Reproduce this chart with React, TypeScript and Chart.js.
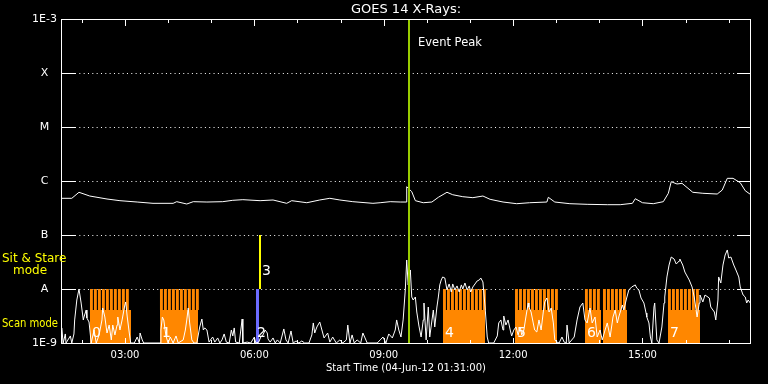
import { useEffect, useRef } from 'react';
import { Chart, registerables } from 'chart.js';

Chart.register(...registerables);

const FONT = "'DejaVu Sans', sans-serif";
const TITLE = 'GOES 14 X-Rays:';
const X_TITLE = 'Start Time (04-Jun-12 01:31:00)';

// x axis: minutes after 04-Jun-12 01:31:00
const X_MIN = 0;
const X_MAX = 960;
const hourTickMinutes = [29, 89, 149, 209, 269, 329, 389, 449, 509, 569, 629, 689, 749, 809, 869, 929];
const labeledTickMinutes = [89, 269, 449, 629, 809];
const labeledTickText = ['03:00', '06:00', '09:00', '12:00', '15:00'];

// y axis: flux W/m^2
const yTickValues = [1e-9, 1e-8, 1e-7, 1e-6, 1e-5, 1e-4, 1e-3];
const yTickLabels = ['1E-9', 'A', 'B', 'C', 'M', 'X', '1E-3'];

// long channel (1-8 A)
const longTime = [0, 15, 25, 40, 64, 82, 106, 128, 156, 161, 175, 184, 203, 225, 239, 253, 277, 295, 314, 321, 342, 360, 374, 388, 406, 434, 444, 458, 472, 480, 481, 488, 493, 504, 516, 525, 537, 545, 559, 573, 587, 597, 615, 634, 652, 676, 678, 687, 708, 732, 760, 778, 795, 799, 809, 824, 838, 845, 849, 857, 864, 879, 893, 913, 920, 927, 935, 945, 952, 959];
const longFlux = [4.78e-7, 4.78e-7, 6.18e-7, 5.27e-7, 4.64e-7, 4.32e-7, 4.08e-7, 3.86e-7, 3.86e-7, 4.14e-7, 3.75e-7, 4.14e-7, 4.08e-7, 4.14e-7, 4.39e-7, 4.51e-7, 4.32e-7, 4.45e-7, 3.86e-7, 4.32e-7, 3.96e-7, 4.45e-7, 4.78e-7, 4.45e-7, 4.14e-7, 3.86e-7, 3.96e-7, 4.14e-7, 4.08e-7, 4.08e-7, 7.84e-7, 6.34e-7, 4.32e-7, 3.96e-7, 4.08e-7, 4.99e-7, 6.18e-7, 5.57e-7, 5.12e-7, 4.91e-7, 5.27e-7, 4.58e-7, 4.08e-7, 3.8e-7, 3.96e-7, 4.08e-7, 4.99e-7, 4.08e-7, 3.8e-7, 3.7e-7, 3.64e-7, 3.64e-7, 3.86e-7, 4.7e-7, 3.96e-7, 3.8e-7, 4.14e-7, 5.92e-7, 9.7e-7, 8.8e-7, 9.06e-7, 6.18e-7, 5.92e-7, 5.74e-7, 6.8e-7, 1.12e-6, 1.12e-6, 9.3e-7, 6.6e-7, 5.67e-7];

// short channel (0.5-4 A)
const shortTime = [0, 1, 3, 6, 7, 13, 15, 18, 19, 22, 25, 28, 31, 32, 35, 36, 39, 42, 46, 49, 53, 57, 58, 61, 64, 67, 70, 72, 75, 78, 79, 82, 85, 88, 90, 92, 95, 97, 102, 106, 109, 110, 113, 115, 138, 139, 141, 143, 146, 149, 152, 156, 160, 163, 170, 173, 175, 177, 179, 182, 185, 189, 193, 196, 198, 200, 203, 206, 209, 211, 214, 218, 221, 224, 227, 230, 234, 237, 239, 241, 243, 248, 252, 253, 259, 264, 269, 271, 275, 278, 281, 284, 287, 288, 291, 295, 298, 301, 305, 310, 313, 316, 320, 323, 327, 331, 335, 339, 345, 349, 351, 353, 356, 360, 363, 366, 371, 374, 378, 383, 388, 392, 397, 399, 402, 405, 408, 412, 417, 420, 423, 426, 440, 444, 448, 452, 456, 461, 465, 467, 470, 473, 476, 479, 481, 483, 486, 488, 490, 493, 495, 498, 501, 504, 505, 508, 511, 513, 518, 520, 523, 525, 527, 529, 531, 534, 537, 540, 543, 545, 548, 551, 554, 557, 559, 562, 565, 568, 570, 573, 576, 579, 582, 584, 587, 590, 593, 595, 602, 607, 609, 612, 615, 616, 619, 622, 625, 627, 630, 633, 636, 639, 641, 644, 647, 650, 651, 654, 657, 659, 662, 665, 668, 671, 673, 676, 679, 682, 685, 687, 690, 693, 697, 700, 703, 704, 707, 714, 718, 722, 726, 729, 732, 736, 739, 743, 746, 750, 753, 757, 760, 764, 768, 771, 774, 776, 781, 783, 787, 790, 794, 799, 801, 804, 807, 811, 814, 815, 818, 820, 822, 825, 826, 829, 832, 836, 839, 840, 843, 846, 849, 853, 856, 860, 861, 865, 868, 874, 878, 881, 883, 885, 888, 889, 893, 896, 902, 904, 909, 911, 914, 915, 918, 921, 924, 927, 929, 932, 936, 939, 943, 945, 949, 952, 954, 956, 959];
const shortFlux = [1.0e-9, 1.9e-9, 1.0e-9, 1.47e-9, 1.0e-9, 1.35e-9, 1.0e-9, 1.47e-9, 2.67e-9, 6.26e-9, 1.0e-8, 5.5e-9, 2.67e-9, 3.03e-9, 4.08e-9, 2.9e-9, 2.45e-9, 1.0e-9, 1.74e-9, 1.0e-9, 1.41e-9, 2.67e-9, 4.45e-9, 3.03e-9, 1.53e-9, 2.15e-9, 1.14e-9, 2.15e-9, 1.41e-9, 2.15e-9, 3.03e-9, 1.74e-9, 2.67e-9, 4.45e-9, 5.75e-9, 3.16e-9, 1.53e-9, 1.0e-9, 1.0e-9, 1.29e-9, 1.0e-9, 1.53e-9, 1.14e-9, 1.0e-9, 1.0e-9, 1.74e-9, 3.03e-9, 2.67e-9, 1.35e-9, 1.0e-9, 1.29e-9, 1.0e-9, 1.35e-9, 1.0e-9, 1.14e-9, 1.74e-9, 2.67e-9, 4.45e-9, 2.35e-9, 1.14e-9, 1.0e-9, 1.0e-9, 1.98e-9, 2.78e-9, 1.74e-9, 1.9e-9, 1.74e-9, 1.04e-9, 1.19e-9, 1.29e-9, 1.04e-9, 1.24e-9, 1.0e-9, 1.14e-9, 1.47e-9, 1.04e-9, 1.0e-9, 1.74e-9, 1.35e-9, 1.9e-9, 1.04e-9, 1.0e-9, 2.78e-9, 1.0e-9, 1.04e-9, 1.0e-9, 1.29e-9, 1.0e-9, 1.04e-9, 1.29e-9, 1.41e-9, 1.74e-9, 1.53e-9, 1.19e-9, 1.04e-9, 1.24e-9, 1.0e-9, 1.14e-9, 1.0e-9, 1.82e-9, 1.14e-9, 1.0e-9, 1.67e-9, 1.0e-9, 1.09e-9, 1.0e-9, 1.09e-9, 1.0e-9, 1.0e-9, 1.41e-9, 2.35e-9, 1.53e-9, 1.98e-9, 2.45e-9, 1.74e-9, 1.24e-9, 1.53e-9, 1.04e-9, 1.29e-9, 1.0e-9, 1.14e-9, 1.0e-9, 1.14e-9, 2.15e-9, 1.0e-9, 1.41e-9, 1.0e-9, 1.14e-9, 1.0e-9, 1.53e-9, 1.24e-9, 1.0e-9, 1.0e-9, 1.14e-9, 1.29e-9, 1.0e-9, 1.47e-9, 1.24e-9, 1.74e-9, 2.67e-9, 1.74e-9, 1.29e-9, 2.67e-9, 9.59e-9, 3.44e-8, 1.19e-8, 2.25e-8, 7.11e-9, 6.26e-9, 7.11e-9, 3.75e-9, 2.06e-9, 1.29e-9, 2.67e-9, 5.5e-9, 1.14e-9, 4.64e-9, 1.29e-9, 4.08e-9, 1.98e-9, 4.64e-9, 7.11e-9, 1.19e-8, 1.47e-8, 1.67e-8, 1.6e-8, 9.59e-9, 1.24e-8, 8.8e-9, 1.24e-8, 9.59e-9, 1.14e-8, 8.8e-9, 1.19e-8, 1.0e-8, 1.29e-8, 9.59e-9, 1.14e-8, 8.8e-9, 1.09e-8, 1.24e-8, 1.41e-8, 1.47e-8, 1.6e-8, 1.35e-8, 4.64e-9, 1.29e-9, 1.0e-9, 1.0e-9, 1.35e-9, 2.35e-9, 2.67e-9, 1.74e-9, 3.16e-9, 2.15e-9, 2.67e-9, 1.74e-9, 1.35e-9, 1.74e-9, 1.98e-9, 1.41e-9, 1.98e-9, 1.41e-9, 1.74e-9, 3.16e-9, 5.5e-9, 4.64e-9, 3.75e-9, 2.35e-9, 1.74e-9, 1.6e-9, 2.67e-9, 1.74e-9, 3.75e-9, 5.75e-9, 6.81e-9, 3.75e-9, 4.45e-9, 2.35e-9, 1.14e-9, 1.04e-9, 1.0e-9, 1.29e-9, 1.04e-9, 1.0e-9, 2.15e-9, 1.0e-9, 1.29e-9, 2.67e-9, 4.64e-9, 5.5e-9, 2.67e-9, 2.35e-9, 4.45e-9, 2.35e-9, 3.03e-9, 1.29e-9, 1.74e-9, 1.14e-9, 1.74e-9, 2.35e-9, 1.29e-9, 3.03e-9, 4.08e-9, 2.35e-9, 3.03e-9, 5.06e-9, 4.08e-9, 6.81e-9, 9.59e-9, 1.09e-8, 1.19e-8, 1.04e-8, 9.59e-9, 6.81e-9, 5.5e-9, 3.59e-9, 3.03e-9, 2.35e-9, 1.29e-9, 1.0e-9, 4.64e-9, 5.5e-9, 1.14e-9, 1.0e-9, 1.98e-9, 5.5e-9, 7.11e-9, 1.67e-8, 2.78e-8, 3.91e-8, 3.59e-8, 2.9e-8, 3.3e-8, 3.59e-8, 2.78e-8, 2.06e-8, 1.47e-8, 1.09e-8, 7.11e-9, 4.64e-9, 3.03e-9, 5.5e-9, 7.74e-9, 5.75e-9, 7.74e-9, 6.81e-9, 4.64e-9, 3.75e-9, 2.67e-9, 6.26e-9, 1.67e-8, 1.29e-8, 2.78e-8, 4.26e-8, 5.28e-8, 3.75e-8, 3.91e-8, 2.78e-8, 2.25e-8, 1.67e-8, 1.09e-8, 7.74e-9, 7.11e-9, 5.5e-9, 6.26e-9, 5.5e-9];

// scan-mode blocks (minutes)
const scanStart = [40.3, 137.7, 531.5, 631.7, 729, 754.1, 844.5];
const scanEnd = [97.4, 190.6, 589.9, 690.1, 751.3, 787.5, 889];
const scanLabel = ['0', '1', '4', '5', '6', '', '7'];
const SCAN_TOP = 1e-8;
const SCAN_SOLID_TOP = 4.1e-9;
const STRIPE_PERIOD = 5.56;
const NUMBER_LEVEL = 1.5e-9;

// sit & stare markers
const stareStart = [271, 275.5];
const stareEnd = [275.5, 278.5];
const stareLow = [1e-9, 1e-8];
const stareHigh = [1e-8, 1e-7];
const stareLabel = ['2', '3'];
const stareLabelLevel = [1.5e-9, 2.1e-8];

const EVENT_PEAK = 484;

const goesPlugin = {
  id: 'goesDecor',
  beforeDraw(chart: any) {
    const { ctx, width, height } = chart;
    ctx.save();
    ctx.fillStyle = '#000';
    ctx.fillRect(0, 0, width, height);
    ctx.restore();
  },
  beforeDatasetsDraw(chart: any) {
    const { ctx, chartArea: a, scales } = chart;
    const x = scales.x;
    const y = scales.y;
    const px = (t: number) => Math.round(x.getPixelForValue(t));
    const py = (v: number) => Math.round(y.getPixelForValue(v));
    ctx.save();
    // dotted grid
    ctx.strokeStyle = '#fff';
    ctx.lineWidth = 1;
    ctx.setLineDash([1, 3.33]);
    for (const v of yTickValues.slice(1, -1)) {
      const yy = py(v) + 0.5;
      ctx.beginPath();
      ctx.moveTo(a.left + 14, yy);
      ctx.lineTo(a.right - 14, yy);
      ctx.stroke();
    }
    ctx.setLineDash([]);
    // scan blocks
    const yTop = py(SCAN_TOP);
    const ySolid = py(SCAN_SOLID_TOP);
    const yBase = py(1e-9);
    ctx.fillStyle = '#ff8700';
    for (let i = 0; i < scanStart.length; i++) {
      const x0 = px(scanStart[i]);
      const x1 = px(scanEnd[i]);
      ctx.fillRect(x0, ySolid, x1 - x0, yBase - ySolid + 1);
      for (let t = scanStart[i]; t < scanEnd[i] - 2; t += STRIPE_PERIOD) {
        const s0 = x.getPixelForValue(t);
        const s1 = x.getPixelForValue(t + STRIPE_PERIOD * 0.72);
        ctx.fillRect(s0, yTop, s1 - s0, ySolid - yTop);
      }
    }
    // sit & stare bars
    const stareColors = ['#6b6bff', '#ffff00'];
    for (let i = 0; i < stareStart.length; i++) {
      const x0 = px(stareStart[i]);
      const x1 = px(stareEnd[i]);
      const y0 = py(stareHigh[i]);
      const y1 = py(stareLow[i]);
      ctx.fillStyle = stareColors[i];
      ctx.fillRect(x0, y0, x1 - x0, y1 - y0);
    }
    // numbers
    ctx.fillStyle = '#fff';
    ctx.font = `14px ${FONT}`;
    ctx.textBaseline = 'middle';
    ctx.textAlign = 'left';
    for (let i = 0; i < scanStart.length; i++) {
      if (!scanLabel[i]) continue;
      ctx.fillText(scanLabel[i], px(scanStart[i]) + 2, y.getPixelForValue(NUMBER_LEVEL));
    }
    ctx.fillText(stareLabel[0], px(stareStart[0]) + 1, y.getPixelForValue(stareLabelLevel[0]));
    ctx.fillText(stareLabel[1], px(stareEnd[1]) + 1, y.getPixelForValue(stareLabelLevel[1]));
    ctx.restore();
  },
  afterDatasetsDraw(chart: any) {
    const { ctx, chartArea: a, scales } = chart;
    const x = scales.x;
    const y = scales.y;
    const px = (t: number) => Math.round(x.getPixelForValue(t));
    const py = (v: number) => Math.round(y.getPixelForValue(v));
    ctx.save();
    // event peak line
    const ex = px(EVENT_PEAK);
    ctx.fillStyle = '#99cc00';
    ctx.fillRect(ex - 1, a.top, 2, a.bottom - a.top);
    ctx.fillStyle = '#fff';
    ctx.font = `11.5px ${FONT}`;
    ctx.textBaseline = 'middle';
    ctx.textAlign = 'left';
    ctx.fillText('Event Peak', ex + 9, a.top + 24);
    // frame
    ctx.strokeStyle = '#fff';
    ctx.lineWidth = 1;
    ctx.strokeRect(a.left + 0.5, a.top + 0.5, a.right - a.left - 1, a.bottom - a.top);
    // y tick marks
    ctx.beginPath();
    for (const v of yTickValues) {
      const yy = py(v) + 0.5;
      ctx.moveTo(a.left, yy);
      ctx.lineTo(a.left + 14, yy);
      ctx.moveTo(a.right - 14, yy);
      ctx.lineTo(a.right, yy);
    }
    // x tick marks
    for (const t of hourTickMinutes) {
      const xx = px(t) + 0.5;
      const major = labeledTickMinutes.includes(t);
      const topLen = major ? 7 : 4;
      const botLen = major ? 5 : 3;
      ctx.moveTo(xx, a.top);
      ctx.lineTo(xx, a.top + topLen);
      ctx.moveTo(xx, a.bottom);
      ctx.lineTo(xx, a.bottom - botLen);
    }
    ctx.stroke();
    // mode labels
    ctx.fillStyle = '#ffff00';
    ctx.font = `12px ${FONT}`;
    const yA = y.getPixelForValue(1e-8);
    const yBottom = y.getPixelForValue(1e-9);
    ctx.fillText('Sit & Stare', 2, yA - 30);
    ctx.fillText('mode', 13, yA - 18);
    ctx.fillText('Scan mode', 2, yBottom - 19, 56);
    ctx.restore();
  },
};

export default function App() {
  const ref = useRef<HTMLCanvasElement>(null);
  useEffect(() => {
    document.body.style.margin = '0';
    document.body.style.background = '#000';
    const canvas = ref.current;
    if (!canvas) return;
    const chart = new Chart(canvas, {
      type: 'line',
      data: {
        datasets: [
          {
            label: 'GOES 14 0.5-4.0 A',
            data: shortTime.map((t, i) => ({ x: t, y: shortFlux[i] })),
            borderColor: '#ffffff',
            borderWidth: 1,
            pointRadius: 0,
            tension: 0,
            fill: false,
          },
          {
            label: 'GOES 14 1.0-8.0 A',
            data: longTime.map((t, i) => ({ x: t, y: longFlux[i] })),
            borderColor: '#ffffff',
            borderWidth: 1,
            pointRadius: 0,
            tension: 0,
            fill: false,
          },
        ],
      },
      options: {
        responsive: false,
        animation: false,
        devicePixelRatio: 1,
        layout: { padding: { left: 0, right: 17, top: 0, bottom: 0 } },
        plugins: {
          legend: { display: false },
          tooltip: { enabled: false },
          title: {
            display: true,
            text: TITLE,
            color: '#ffffff',
            fullSize: false,
            font: { family: FONT, size: 13, weight: 'normal' },
            padding: { top: 2, bottom: 1.4 },
          },
        },
        scales: {
          x: {
            type: 'linear',
            min: X_MIN,
            max: X_MAX,
            grid: { display: false, drawTicks: false },
            border: { display: false },
            afterBuildTicks: (s: any) => {
              s.ticks = labeledTickMinutes.map((v) => ({ value: v }));
            },
            afterFit: (s: any) => {
              s.height = 41;
            },
            ticks: {
              autoSkip: false,
              maxRotation: 0,
              color: '#ffffff',
              font: { family: FONT, size: 10 },
              padding: 6,
              callback: (_v: any, i: number) => labeledTickText[i] ?? '',
            },
            title: {
              display: true,
              text: X_TITLE,
              color: '#ffffff',
              font: { family: FONT, size: 10 },
              padding: { top: 0, bottom: 10 },
            },
          },
          y: {
            type: 'logarithmic',
            min: 1e-9,
            max: 1e-3,
            grid: { display: false, drawTicks: false },
            border: { display: false },
            afterBuildTicks: (s: any) => {
              s.ticks = yTickValues.map((v) => ({ value: v }));
            },
            afterFit: (s: any) => {
              s.width = 61;
            },
            ticks: {
              autoSkip: false,
              color: '#ffffff',
              font: { family: FONT, size: 11 },
              padding: 4,
              crossAlign: 'center',
              callback: (_v: any, i: number) => yTickLabels[i] ?? '',
            },
          },
        },
      },
      plugins: [goesPlugin],
    } as any);
    return () => chart.destroy();
  }, []);
  return (
    <div style={{ width: 768, height: 384, background: '#000' }}>
      <canvas ref={ref} width={768} height={384} style={{ display: 'block', width: 768, height: 384 }} />
    </div>
  );
}
